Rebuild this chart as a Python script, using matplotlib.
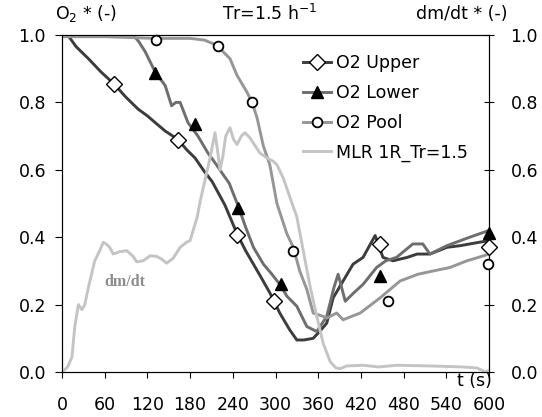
import matplotlib
matplotlib.use('Agg')
import matplotlib.pyplot as plt
from matplotlib.lines import Line2D

plt.rcParams['font.family'] = ['DejaVu Sans']
plt.rcParams['font.size'] = 12.5

# ---------------- data ----------------
upper_t = [0, 8, 20, 37, 55, 73, 90, 107, 120, 131, 145, 163, 175, 187, 200, 211, 229, 246, 258,
           269, 280, 292, 306, 320, 330, 340, 353, 362, 372, 381, 395, 409, 423, 440, 451, 465,
           485, 499, 517, 541, 560, 573, 600]
upper_v = [1.0, 1.0, 0.965, 0.93, 0.89, 0.855, 0.815, 0.78, 0.76, 0.74, 0.715, 0.69, 0.66, 0.635,
           0.595, 0.565, 0.495, 0.41, 0.36, 0.32, 0.28, 0.235, 0.175, 0.125, 0.095, 0.095, 0.10,
           0.12, 0.145, 0.22, 0.27, 0.32, 0.34, 0.405, 0.34, 0.33, 0.34, 0.35, 0.35, 0.37, 0.375,
           0.38, 0.39]
upper_mk_t = [73, 163, 246, 298, 447, 600]
upper_mk_v = [0.855, 0.689, 0.407, 0.21, 0.38, 0.37]

lower_t = [0, 100, 108, 117, 131, 145, 154, 160, 166, 177, 191, 205, 217, 225, 235, 248, 258, 269,
           283, 295, 306, 316, 330, 344, 358, 372, 382, 388, 398, 410, 423, 442, 455, 470, 493,
           507, 517, 541, 573, 600]
lower_v = [1.0, 1.0, 0.98, 0.95, 0.89, 0.85, 0.79, 0.80, 0.80, 0.74, 0.70, 0.65, 0.615, 0.59, 0.56,
           0.49, 0.43, 0.37, 0.32, 0.29, 0.26, 0.225, 0.195, 0.135, 0.12, 0.165, 0.25, 0.29, 0.21,
           0.235, 0.26, 0.31, 0.33, 0.34, 0.38, 0.38, 0.35, 0.375, 0.40, 0.42]
lower_mk_t = [131, 187, 248, 308, 447, 600]
lower_mk_v = [0.887, 0.736, 0.487, 0.261, 0.285, 0.412]

pool_t = [0, 60, 130, 180, 200, 217, 236, 246, 260, 267, 274, 283, 292, 302, 316, 325, 334, 344,
          353, 367, 372, 386, 395, 419, 447, 475, 500, 522, 545, 569, 585, 600]
pool_v = [0.995, 0.995, 0.99, 0.99, 0.985, 0.97, 0.93, 0.88, 0.83, 0.80, 0.755, 0.67, 0.615, 0.50,
          0.41, 0.37, 0.30, 0.245, 0.175, 0.165, 0.16, 0.175, 0.155, 0.175, 0.22, 0.27, 0.29, 0.30,
          0.31, 0.33, 0.34, 0.35]
pool_mk_t = [132, 219, 267, 325, 458, 599]
pool_mk_v = [0.985, 0.967, 0.80, 0.36, 0.21, 0.32]

mlr_t = [0, 8, 14, 18, 23, 28, 32, 37, 46, 53, 58, 62, 67, 72, 81, 91, 100, 105, 114, 124, 133,
         140, 147, 156, 166, 175, 180, 190, 194, 208, 215, 219, 222, 226, 230, 236, 241, 246, 252,
         257, 264, 278, 288, 297, 302, 311, 320, 330, 339, 348, 358, 367, 377, 385, 391, 400, 423,
         445, 470, 517, 563, 583, 595, 600]
mlr_v = [0.0, 0.015, 0.045, 0.135, 0.20, 0.185, 0.20, 0.25, 0.33, 0.36, 0.385, 0.38, 0.37, 0.35,
         0.357, 0.36, 0.343, 0.327, 0.33, 0.345, 0.343, 0.335, 0.323, 0.337, 0.37, 0.385, 0.39,
         0.46, 0.505, 0.635, 0.71, 0.65, 0.60, 0.64, 0.70, 0.725, 0.69, 0.675, 0.70, 0.71, 0.695,
         0.65, 0.635, 0.625, 0.615, 0.575, 0.52, 0.46, 0.36, 0.26, 0.165, 0.085, 0.03, 0.012, 0.01,
         0.018, 0.02, 0.015, 0.02, 0.018, 0.015, 0.012, 0.0, 0.005]

x_ticks = [0, 60, 120, 180, 240, 300, 360, 420, 480, 540, 600]
y_ticks = [0.0, 0.2, 0.4, 0.6, 0.8, 1.0]
labels = ['O2 Upper', 'O2 Lower', 'O2 Pool', 'MLR 1R_Tr=1.5']

# ---------------- styles ----------------
c_up, c_lo, c_po, c_ml = '#3c3c3c', '#6e6e6e', '#969696', '#c4c4c4'
lw = 2.1

fig = plt.figure(figsize=(5.42, 4.17), dpi=100)
ax = fig.add_axes([62/542, 1-372/417, (489-62)/542, (372-35)/417])
ax2 = ax.twinx()

ax.plot(upper_t, upper_v, color=c_up, lw=lw, zorder=3)
ax.plot(lower_t, lower_v, color=c_lo, lw=lw, zorder=3)
ax.plot(pool_t, pool_v, color=c_po, lw=lw, zorder=3)
ax2.plot(mlr_t, mlr_v, color=c_ml, lw=lw, zorder=2)

mk_up = dict(marker='D', markersize=8, markerfacecolor='white', markeredgecolor='black', markeredgewidth=1.0)
mk_lo = dict(marker='^', markersize=8.5, markerfacecolor='black', markeredgecolor='black', markeredgewidth=1.0)
mk_po = dict(marker='o', markersize=7, markerfacecolor='white', markeredgecolor='black', markeredgewidth=1.3)
ax2.plot(upper_mk_t, upper_mk_v, linestyle='none', zorder=5, clip_on=False, **mk_up)
ax2.plot(lower_mk_t, lower_mk_v, linestyle='none', zorder=5, clip_on=False, **mk_lo)
ax2.plot(pool_mk_t, pool_mk_v, linestyle='none', zorder=5, clip_on=False, **mk_po)

for a in (ax, ax2):
    a.set_xlim(0, 600)
    a.set_ylim(0, 1)
    for s in a.spines.values():
        s.set_linewidth(0.8)
        s.set_color('black')

ax.set_xticks(x_ticks)
ax.set_xticklabels([str(v) for v in x_ticks])
ax.set_yticks(y_ticks)
ax.set_yticklabels(['%.1f' % v for v in y_ticks])
ax2.set_yticks(y_ticks)
ax2.set_yticklabels(['%.1f' % v for v in y_ticks])

ax.tick_params(axis='x', direction='out', length=4.5, width=0.8, pad=12.5)
ax.tick_params(axis='y', direction='out', length=5, width=0.8, pad=6.5)
ax2.tick_params(axis='y', direction='inout', length=7, width=0.8, pad=12)

handles = [Line2D([], [], color=c_up, lw=lw, **mk_up),
           Line2D([], [], color=c_lo, lw=lw, **mk_lo),
           Line2D([], [], color=c_po, lw=lw, **mk_po),
           Line2D([], [], color=c_ml, lw=lw)]
ax2.legend(handles, labels, loc='upper left', bbox_to_anchor=(303/542, 1-54/417),
           bbox_transform=fig.transFigure, frameon=False, handlelength=1.6,
           handletextpad=0.3, labelspacing=0.68, borderpad=0, borderaxespad=0, fontsize=12.5)

fig.text(55/542, 1-14/417, 'O$_2$ * (-)', ha='left', va='center', fontsize=12.5)
fig.text(270/542, 1-14/417, 'Tr=1.5 h$^{-1}$', ha='center', va='center', fontsize=12.5)
fig.text(507/542, 1-14/417, 'dm/dt * (-)', ha='right', va='center', fontsize=12.5)
fig.text(492/542, 1-372/417, 't (s)', ha='right', va='top', fontsize=12.5)
fig.text(104/542, 1-282/417, 'dm/dt', ha='left', va='center', fontsize=11.5,
         family='Liberation Serif', weight='bold', color='#8c8c8c')

fig.savefig('out.png', dpi=100)
